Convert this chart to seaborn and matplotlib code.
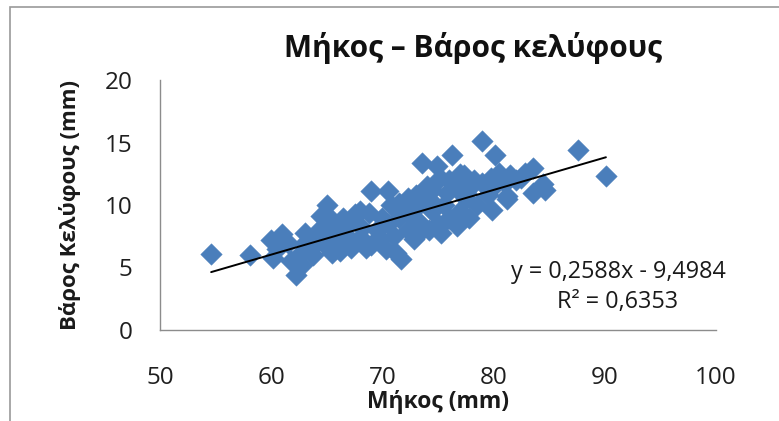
import matplotlib
matplotlib.use("Agg")
import matplotlib.pyplot as plt
import seaborn as sns
import pandas as pd
import numpy as np
from matplotlib.patches import Rectangle

# ---- data ----
length_mm = [54.6, 58.1, 62.2,
             60.0, 60.5, 61.0, 61.5, 60.2, 61.8, 62.5, 63.0, 63.5, 62.8, 64.0, 63.8,
             64.5, 65.0, 65.3, 65.5, 66.0, 64.8, 65.5, 66.3, 66.8, 67.0, 67.5, 68.0, 66.5, 67.8, 68.2, 65.2, 66.0,
             68.5, 69.0, 69.0, 70.5, 69.5, 70.0, 70.3, 71.0, 71.5, 70.8, 71.7, 71.2, 72.3, 72.0, 69.8, 68.8,
             73.0, 73.5, 73.6, 74.9, 74.2, 74.5, 75.0, 75.5, 73.0, 74.0, 75.8, 76.0, 76.3, 75.3, 76.0, 72.8, 74.2, 73.3, 75.2,
             76.5, 77.0, 77.5, 77.0, 78.0, 78.5, 79.0, 79.0, 79.9, 80.1, 79.5, 77.8, 76.8, 78.2, 80.0,
             81.2, 81.0, 81.5, 82.0, 82.5, 83.5, 83.5, 84.4, 84.6, 81.2,
             87.6, 90.1,
             66.2, 67.2, 68.5, 71.5, 72.3, 72.8, 75.2, 76.7, 77.3, 79.8, 80.5, 82.8, 77.5, 74.5, 70.5, 64.5, 63.0]
shell_weight = [6.1, 6.0, 4.4,
                7.2, 6.5, 7.7, 7.0, 5.8, 5.5, 6.0, 7.0, 6.5, 5.2, 7.3, 6.0,
                9.1, 10.0, 9.0, 8.5, 8.0, 6.8, 6.2, 6.5, 7.5, 8.6, 9.3, 9.5, 9.0, 7.2, 8.2, 7.5, 6.8,
                7.0, 6.8, 11.1, 11.1, 8.0, 9.0, 6.5, 7.5, 9.0, 10.0, 5.7, 6.2, 8.0, 9.6, 7.4, 9.4,
                7.5, 8.5, 13.4, 13.1, 10.5, 9.5, 8.5, 10.0, 10.8, 11.5, 11.0, 12.0, 14.0, 7.8, 9.0, 9.0, 8.0, 10.0, 12.2,
                8.7, 9.5, 10.5, 12.5, 11.5, 10.0, 15.1, 11.8, 9.6, 14.0, 10.8, 9.0, 11.2, 12.0, 11.5,
                10.7, 11.8, 12.4, 12.0, 12.2, 11.0, 13.0, 11.7, 11.2, 10.5,
                14.4, 12.3,
                6.3, 6.6, 6.6, 10.2, 10.6, 7.3, 8.3, 8.3, 12.4, 12.2, 12.6, 12.6, 11.0, 11.2, 8.5, 8.2, 7.8]
trend_slope = 0.2588
trend_intercept = -9.4984
x_ticks = [50, 60, 70, 80, 90, 100]
y_ticks = [0, 5, 10, 15, 20]

title = "Μήκος – Βάρος κελύφους"
x_label = "Μήκος (mm)"
y_label = "Βάρος Κελύφους (mm)"
eq_text = "y = 0,2588x - 9,4984\nR² = 0,6353"

sns.set_theme(style="white")
plt.rcParams["font.family"] = ["Open Sans", "DejaVu Sans"]

df = pd.DataFrame({"x": length_mm, "y": shell_weight})

fig = plt.figure(figsize=(7.79, 4.21), dpi=100)
ax = fig.add_axes([160 / 779, 1 - 330 / 421, (716 - 160) / 779, (330 - 80) / 421])

blue = "#4A7EBB"
sns.scatterplot(data=df, x="x", y="y", marker="D", s=120, color=blue,
                edgecolor=blue, linewidth=0.3, ax=ax, zorder=3)

xs = np.array([min(length_mm), max(length_mm)])
sns.lineplot(x=xs, y=trend_slope * xs + trend_intercept, color="black",
             linewidth=1.4, ax=ax, zorder=4)

ax.set_xlim(50, 100)
ax.set_ylim(0, 20)
ax.set_xticks(x_ticks)
ax.set_yticks(y_ticks)
ax.tick_params(axis="x", length=0, pad=26, labelsize=17.5, labelcolor="#1f1f1f")
ax.tick_params(axis="y", length=0, pad=20, labelsize=17.5, labelcolor="#1f1f1f")

for s in ["top", "right"]:
    ax.spines[s].set_visible(False)
for s in ["left", "bottom"]:
    ax.spines[s].set_color("#8c8c8c")
    ax.spines[s].set_linewidth(1.0)

ax.set_xlabel(x_label, fontsize=16.5, fontweight="bold", labelpad=0, color="#1a1a1a")
ax.set_ylabel(y_label, fontsize=16, fontweight="bold", labelpad=17, color="#1a1a1a")

fig.text(473 / 779, 1 - 48 / 421, title, fontsize=21.5, fontweight="bold",
         ha="center", va="center", color="#111111")

fig.text(618 / 779, 1 - 287 / 421, eq_text, fontsize=16.8, ha="center", va="center",
         color="#1a1a1a", linespacing=1.3)

fig.patches.append(Rectangle((10 / 779, -0.2), 1.5, 1.2 - 7 / 421,
                             transform=fig.transFigure, fill=False,
                             edgecolor="#9a9a9a", linewidth=1.2))

fig.savefig("out.png", dpi=100)
